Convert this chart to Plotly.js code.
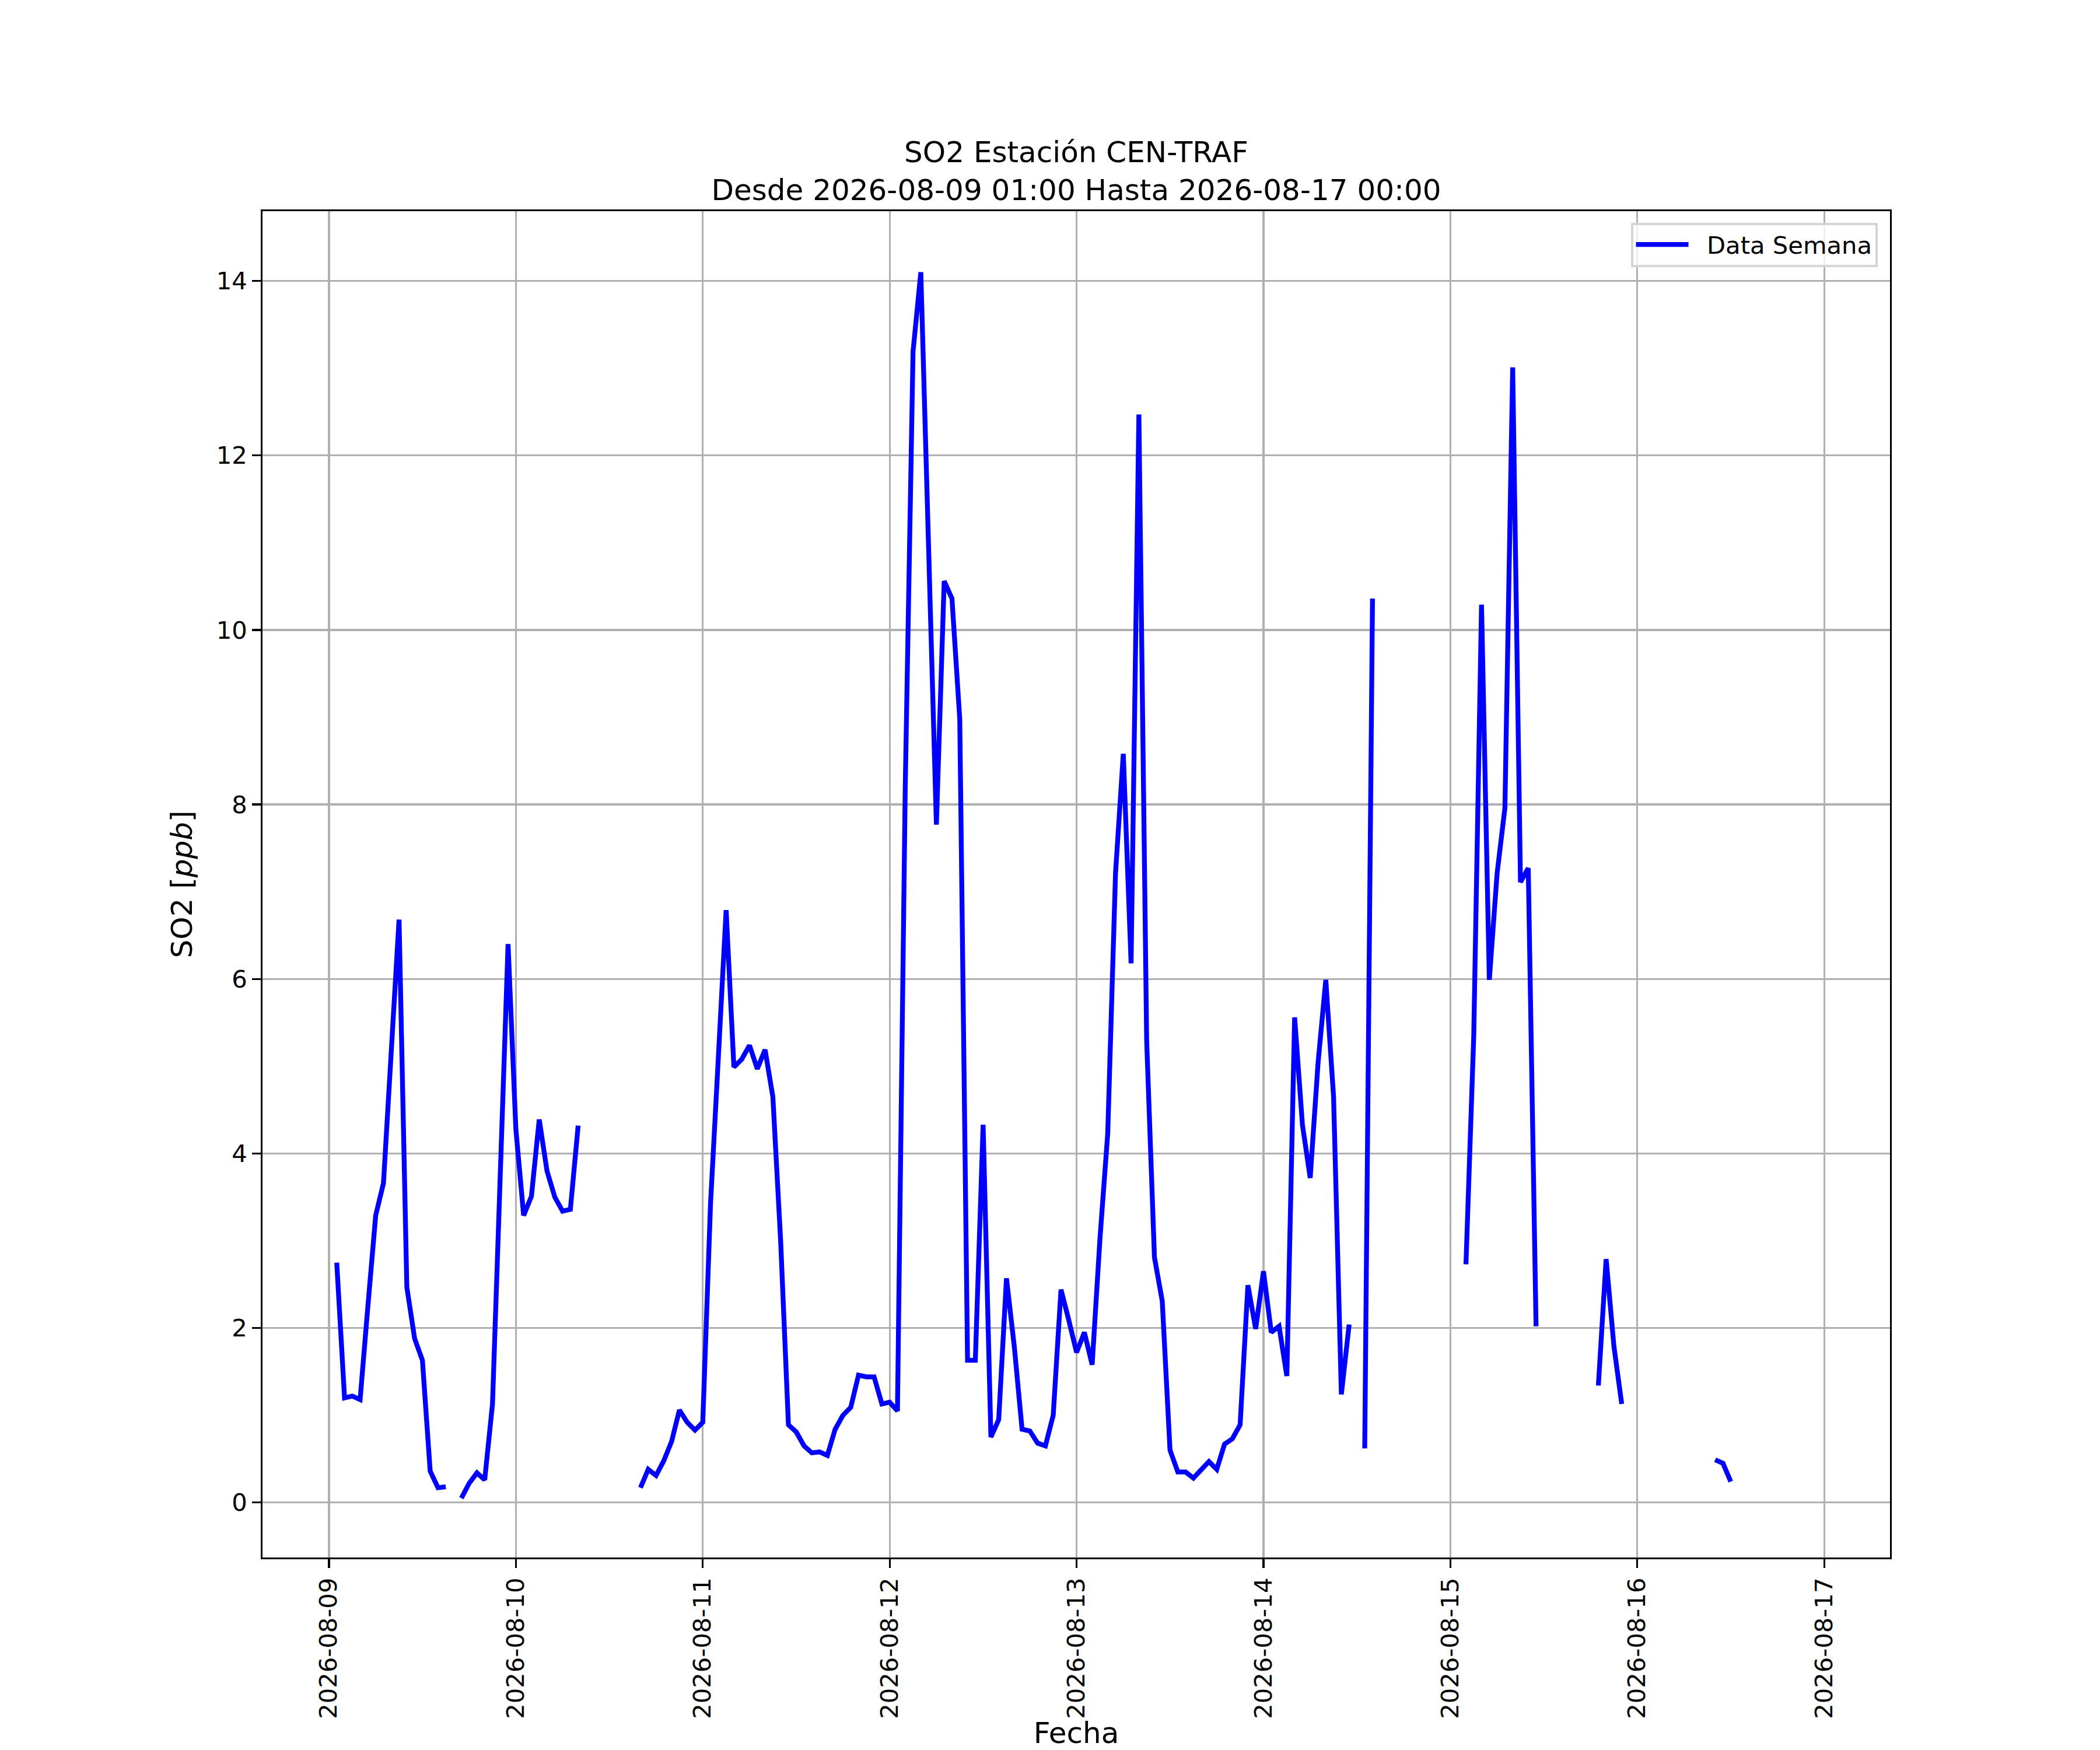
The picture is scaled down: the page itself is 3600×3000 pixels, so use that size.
<!DOCTYPE html>
<html>
<head>
<meta charset="utf-8">
<script src="https://cdn.plot.ly/plotly-3.0.1.min.js"></script>
<style>
  html, body { margin: 0; padding: 0; background: #fff; }
  #chart { width: 3600px; height: 3000px; }
</style>
</head>
<body>
<div id="chart"></div>
<script>
// hourly SO2 readings, first one at 2026-08-09 01:00, null = no data
var startHour = Date.UTC(2026, 7, 9, 1, 0);
var so2 = [
  // 08-09 01:00 .. 08-10 00:00
  2.75, 1.20, 1.22, 1.18, 2.25, 3.29, 3.66, 5.25, 6.68, 2.47, 1.88, 1.63,
  0.36, 0.17, 0.18, null, 0.05, 0.22, 0.34, 0.26, 1.13, 3.80, 6.40, 4.28,
  // 08-10 01:00 .. 08-11 00:00
  3.29, 3.51, 4.39, 3.80, 3.50, 3.34, 3.36, 4.32, null, null, null, null,
  null, null, null, 0.17, 0.38, 0.31, 0.48, 0.70, 1.06, 0.92, 0.83, 0.92,
  // 08-11 01:00 .. 08-12 00:00
  3.43, 5.10, 6.79, 4.99, 5.08, 5.24, 4.97, 5.19, 4.65, 3.00, 0.89, 0.81,
  0.65, 0.57, 0.58, 0.54, 0.84, 1.00, 1.09, 1.46, 1.44, 1.44, 1.13, 1.15,
  // 08-12 01:00 .. 08-13 00:00
  1.05, 8.20, 13.19, 14.10, 10.94, 7.77, 10.56, 10.36, 8.98, 1.63, 1.63, 4.33,
  0.75, 0.95, 2.57, 1.79, 0.84, 0.82, 0.68, 0.65, 1.00, 2.44, 2.09, 1.72,
  // 08-13 01:00 .. 08-14 00:00
  1.95, 1.58, 3.02, 4.23, 7.21, 8.58, 6.18, 12.47, 5.29, 2.81, 2.31, 0.60,
  0.35, 0.35, 0.28, 0.38, 0.47, 0.38, 0.67, 0.73, 0.89, 2.49, 1.99, 2.65,
  // 08-14 01:00 .. 08-15 00:00
  1.95, 2.02, 1.45, 5.56, 4.33, 3.72, 5.03, 5.99, 4.65, 1.24, 2.04, null,
  0.62, 10.36, null, null, null, null, null, null, null, null, null, null,
  // 08-15 01:00 .. 08-16 00:00
  null, 2.73, 5.35, 10.29, 5.99, 7.21, 7.96, 13.01, 7.11, 7.27, 2.02, null,
  null, null, null, null, null, null, 1.34, 2.79, 1.79, 1.13, null, null,
  // 08-16 01:00 .. 08-17 00:00
  null, null, null, null, null, null, null, null, null, 0.49, 0.45, 0.24,
  null, null, null, null, null, null, null, null, null, null, null, null
];
var dayTicks = ['2026-08-09', '2026-08-10', '2026-08-11', '2026-08-12',
                '2026-08-13', '2026-08-14', '2026-08-15', '2026-08-16', '2026-08-17'];
var yTicks = [0, 2, 4, 6, 8, 10, 12, 14];

var fechas = [];
for (var i = 0; i < so2.length; i++) {
  var d = new Date(startHour + i * 3600000);
  fechas.push(d.toISOString().slice(0, 16).replace('T', ' '));
}

var font = 'DejaVu Sans, sans-serif';
var trace1 = {
  x: fechas,
  y: so2,
  type: 'scatter',
  mode: 'lines',
  // two nbsp to open a gap between the line sample and the text
  name: '\u00a0\u00a0Data Semana',
  connectgaps: false,
  line: { color: '#0000ff', width: 8.3 }
};

var axisStyle = {
  showline: true, linecolor: '#000', linewidth: 3.3, mirror: true,
  ticks: 'outside', ticklen: 14.6, tickwidth: 3.3, tickcolor: '#000',
  showgrid: true, gridcolor: '#b0b0b0', gridwidth: 3.3,
  zeroline: false,
  tickfont: { family: font, size: 41.7, color: '#000' }
};

var layout = {
  width: 3600, height: 3000,
  margin: { l: 450, r: 360, t: 362, b: 330 },
  paper_bgcolor: '#fff', plot_bgcolor: '#fff',
  font: { family: font, color: '#000' },
  title: {
    text: 'SO2 Estación CEN-TRAF<br>Desde 2026-08-09 01:00 Hasta 2026-08-17 00:00',
    font: { family: font, size: 50, color: '#000' },
    x: 0.5, xref: 'paper', xanchor: 'center',
    y: 1, yref: 'paper', yanchor: 'bottom',
    pad: { b: 84 }
  },
  xaxis: Object.assign({}, axisStyle, {
    type: 'date',
    range: ['2026-08-08 15:28', '2026-08-17 08:27'],
    tickmode: 'array',
    tickvals: dayTicks,
    ticktext: dayTicks,
    tickangle: -90,
    title: { text: 'Fecha', font: { family: font, size: 50, color: '#000' }, standoff: 30 }
  }),
  yaxis: Object.assign({}, axisStyle, {
    range: [-0.63, 14.8],
    tickmode: 'array',
    tickvals: yTicks,
    ticktext: yTicks.map(String),
    title: { text: 'SO2 [<i>ppb</i>]', font: { family: font, size: 50, color: '#000' }, standoff: 26 }
  }),
  showlegend: true,
  legend: {
    x: 0.9923, xanchor: 'right', y: 0.9915, yanchor: 'top',
    bgcolor: 'rgba(255,255,255,0.8)',
    bordercolor: '#d5d5d5', borderwidth: 4,
    font: { family: font, size: 41.7, color: '#000' },
    itemwidth: 90
  }
};

Plotly.newPlot('chart', [trace1], layout, { staticPlot: true });
</script>
</body>
</html>
